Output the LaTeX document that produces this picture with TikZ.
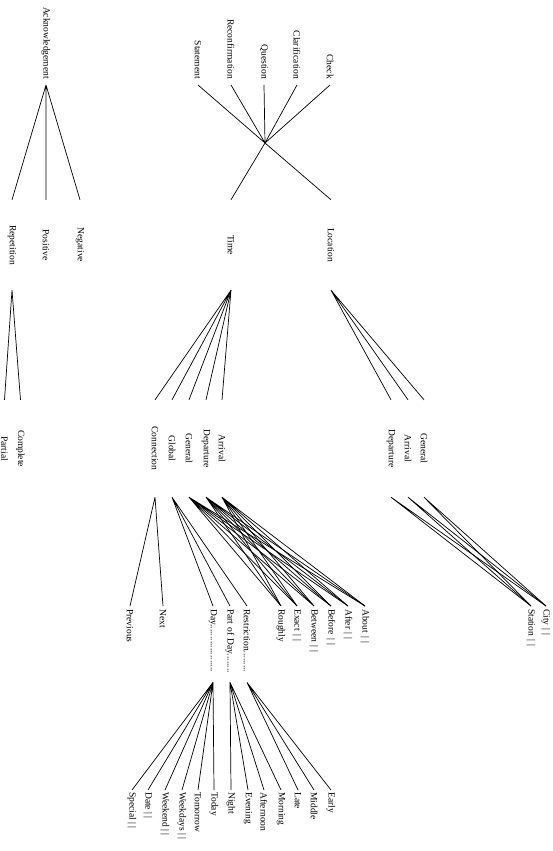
\documentclass[tikz,border=0pt]{standalone}
\usepackage{fontspec}
\setmainfont{Liberation Serif}
\begin{document}
\begin{tikzpicture}[x=1pt, y=1pt,
    lab/.style={rotate=-90, font=\fontsize{9.5}{11}\selectfont, inner sep=0pt},
    lvlone/.style={lab, anchor=east, inner xsep=6pt},
    lvltwo/.style={lab, anchor=center, minimum width=90pt},
    lvlthree/.style={lab, anchor=center, minimum width=97pt},
    lvlfour/.style={lab, anchor=west, text width=70pt, align=left, inner xsep=3pt},
    lvlfive/.style={lab, anchor=west, inner xsep=2pt},
    link/.style={line width=0.7pt}
]
    \useasboundingbox (0,0) rectangle (552,-851);

    % Dialogue acts
    \node[lvlone] (ack) at (46,-85) {Acknowledgement};
    \node[lvlone] (stmt) at (198,-85) {Statement};
    \node[lvlone] (reconf) at (231,-85) {Reconfirmation};
    \node[lvlone] (quest) at (264,-85) {Question};
    \node[lvlone] (clarif) at (297,-85) {Clarification};
    \node[lvlone] (check) at (330,-85) {Check};
    \coordinate (hub) at (265,-143);

    % Second level
    \node[lvltwo] (rep) at (12,-245) {Repetition};
    \node[lvltwo] (pos) at (46,-245) {Positive};
    \node[lvltwo] (neg) at (80,-245) {Negative};
    \node[lvltwo] (time) at (231,-245) {Time};
    \node[lvltwo] (loc) at (331,-245) {Location};

    % Third level
    \node[lvlthree] (partial) at (4.5,-448.5) {Partial};
    \node[lvlthree] (complete) at (20.5,-448.5) {Complete};
    \node[lvlthree] (conn) at (155,-448.5) {Connection};
    \node[lvlthree] (glob) at (172,-448.5) {Global};
    \node[lvlthree] (tgen) at (189,-448.5) {General};
    \node[lvlthree] (tdep) at (206,-448.5) {Departure};
    \node[lvlthree] (tarr) at (222,-448.5) {Arrival};
    \node[lvlthree] (ldep) at (391,-448.5) {Departure};
    \node[lvlthree] (larr) at (408,-448.5) {Arrival};
    \node[lvlthree] (lgen) at (424,-448.5) {General};

    % Fourth level
    \node[lvlfour] (prev) at (130,-606) {Previous};
    \node[lvlfour] (next) at (163,-606) {Next};
    \node[lvlfour] (day) at (213,-606) {Day....................};
    \node[lvlfour] (pod) at (230,-606) {Part of Day........};
    \node[lvlfour] (restr) at (247,-606) {Restriction.........};
    \node[lvlfour] (rough) at (281,-606) {Roughly};
    \node[lvlfour] (exact) at (297,-606) {Exact | |};
    \node[lvlfour] (betw) at (314,-606) {Between | |};
    \node[lvlfour] (before) at (331,-606) {Before | |};
    \node[lvlfour] (after) at (348,-606) {After | |};
    \node[lvlfour] (about) at (365,-606) {About | |};
    \node[lvlfour] (station) at (531,-606) {Station | |};
    \node[lvlfour] (city) at (546,-606) {City | |};

    % Fifth level
    \node[lvlfive] (special) at (132,-790) {Special | |};
    \node[lvlfive] (date) at (148,-790) {Date | |};
    \node[lvlfive] (wkend) at (165,-790) {Weekend | |};
    \node[lvlfive] (wkdays) at (182,-790) {Weekdays | |};
    \node[lvlfive] (tomorrow) at (198,-790) {Tomorrow};
    \node[lvlfive] (today) at (214,-790) {Today};
    \node[lvlfive] (night) at (231,-790) {Night};
    \node[lvlfive] (evening) at (248,-790) {Evening};
    \node[lvlfive] (aftern) at (264,-790) {Afternoon};
    \node[lvlfive] (morning) at (281,-790) {Morning};
    \node[lvlfive] (late) at (298,-790) {Late};
    \node[lvlfive] (middle) at (314,-790) {Middle};
    \node[lvlfive] (early) at (331,-790) {Early};

    % Lines
    \draw[link] (ack.east) -- (rep.west) (ack.east) -- (pos.west) (ack.east) -- (neg.west);
    \draw[link] (stmt.east) -- (hub) (reconf.east) -- (hub) (quest.east) -- (hub);
    \draw[link] (clarif.east) -- (hub) (check.east) -- (hub);
    \draw[link] (hub) -- (time.west) (hub) -- (loc.west);

    \draw[link] (rep.east) -- (partial.west) (rep.east) -- (complete.west);
    \draw[link] (time.east) -- (conn.west) (time.east) -- (glob.west) (time.east) -- (tgen.west);
    \draw[link] (time.east) -- (tdep.west) (time.east) -- (tarr.west);
    \draw[link] (loc.east) -- (ldep.west) (loc.east) -- (larr.west) (loc.east) -- (lgen.west);

    \draw[link] (conn.east) -- (prev.west) (conn.east) -- (next.west);
    \draw[link] (glob.east) -- (day.west) (glob.east) -- (pod.west) (glob.east) -- (restr.west);
    \draw[link] (tgen.east) -- (rough.west) (tgen.east) -- (exact.west) (tgen.east) -- (betw.west);
    \draw[link] (tgen.east) -- (before.west) (tgen.east) -- (after.west) (tgen.east) -- (about.west);
    \draw[link] (tdep.east) -- (rough.west) (tdep.east) -- (exact.west) (tdep.east) -- (betw.west);
    \draw[link] (tdep.east) -- (before.west) (tdep.east) -- (after.west) (tdep.east) -- (about.west);
    \draw[link] (tarr.east) -- (rough.west) (tarr.east) -- (exact.west) (tarr.east) -- (betw.west);
    \draw[link] (tarr.east) -- (before.west) (tarr.east) -- (after.west) (tarr.east) -- (about.west);
    \draw[link] (ldep.east) -- (station.west) (ldep.east) -- (city.west);
    \draw[link] (larr.east) -- (station.west) (larr.east) -- (city.west);
    \draw[link] (lgen.east) -- (station.west) (lgen.east) -- (city.west);

    \draw[link] (day.east) -- (special.west) (day.east) -- (date.west) (day.east) -- (wkend.west);
    \draw[link] (day.east) -- (wkdays.west) (day.east) -- (tomorrow.west) (day.east) -- (today.west);
    \draw[link] (pod.east) -- (night.west) (pod.east) -- (evening.west);
    \draw[link] (pod.east) -- (aftern.west) (pod.east) -- (morning.west);
    \draw[link] (restr.east) -- (late.west) (restr.east) -- (middle.west) (restr.east) -- (early.west);
\end{tikzpicture}
\end{document}
